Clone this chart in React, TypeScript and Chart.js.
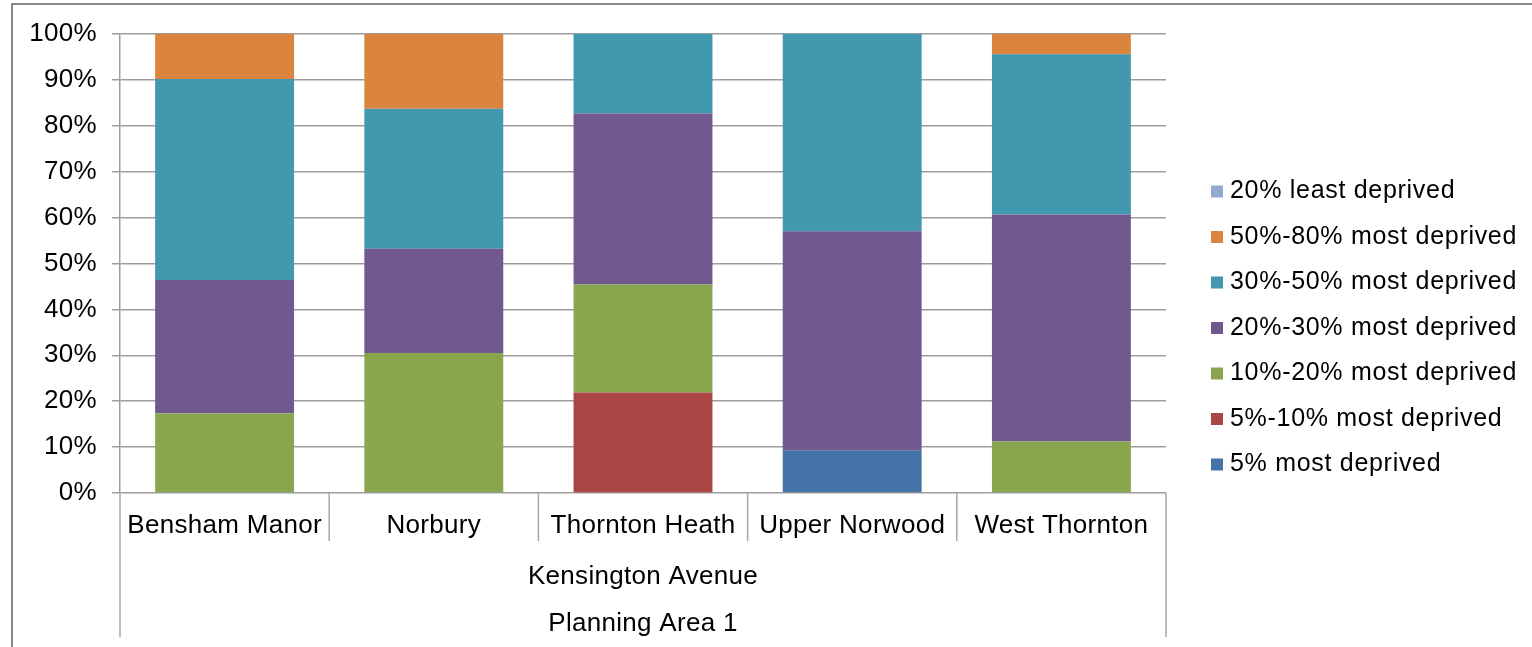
import React, { useEffect, useRef } from "react";
import { Chart, registerables } from "chart.js";

Chart.register(...registerables);

// ---------- data ----------
const categories = ["Bensham Manor", "Norbury", "Thornton Heath", "Upper Norwood", "West Thornton"];
const groupLabels = ["Kensington Avenue", "Planning Area 1"];
const yTickValues = [0, 10, 20, 30, 40, 50, 60, 70, 80, 90, 100];

// series listed bottom of stack first
const most5 = [0, 0, 0, 9.3, 0];
const most5to10 = [0, 0, 21.9, 0, 0];
const most10to20 = [17.4, 30.5, 23.5, 0, 11.2];
const most20to30 = [29.0, 22.7, 37.3, 47.7, 49.5];
const most30to50 = [43.8, 30.5, 17.3, 43.0, 34.9];
const most50to80 = [9.8, 16.3, 0, 0, 4.4];
const least20 = [0, 0, 0, 0, 0];

const seriesNames = [
  "5% most deprived",
  "5%-10% most deprived",
  "10%-20% most deprived",
  "20%-30% most deprived",
  "30%-50% most deprived",
  "50%-80% most deprived",
  "20% least deprived",
];
const seriesValues = [most5, most5to10, most10to20, most20to30, most30to50, most50to80, least20];
const seriesColors = ["#4572A7", "#AA4643", "#89A54E", "#71588F", "#4198AF", "#DB843D", "#93A9CF"];

const FONT = "'Liberation Sans', Arial, sans-serif";
const GRID = "#9d9d9d";

const decorPlugin = {
  id: "decor",
  beforeDraw(chart: any) {
    const ctx = chart.ctx;
    ctx.save();
    ctx.strokeStyle = "#878787";
    ctx.lineWidth = 2;
    ctx.beginPath();
    ctx.moveTo(12, chart.height);
    ctx.lineTo(12, 4);
    ctx.lineTo(chart.width + 2, 4);
    ctx.stroke();
    ctx.restore();
    (ctx as any).letterSpacing = "0.3px";
  },
  afterDraw(chart: any) {
    const ctx = chart.ctx;
    const xs = chart.scales.x;
    const area = chart.chartArea;
    const n = categories.length;
    const step = (area.right - area.left) / n;
    ctx.save();
    ctx.strokeStyle = "#a6a6a6";
    ctx.lineWidth = 1.5;
    ctx.beginPath();
    for (let i = 1; i < n; i++) {
      const x = (xs.getPixelForValue(i - 1) + xs.getPixelForValue(i)) / 2;
      ctx.moveTo(x, area.bottom);
      ctx.lineTo(x, area.bottom + 48);
    }
    ctx.moveTo(xs.getPixelForValue(0) - step / 2, area.bottom);
    ctx.lineTo(xs.getPixelForValue(0) - step / 2, 637);
    ctx.moveTo(xs.getPixelForValue(n - 1) + step / 2, area.bottom);
    ctx.lineTo(xs.getPixelForValue(n - 1) + step / 2, 637);
    ctx.stroke();

    // legend (top item = top of stack)
    const ds = chart.data.datasets;
    const boxX = 1211;
    const textX = 1230;
    const top = 191.5;
    const gap = 45.5;
    ctx.font = `25px ${FONT}`;
    (ctx as any).letterSpacing = "0.7px";
    ctx.textBaseline = "middle";
    ctx.textAlign = "left";
    for (let k = 0; k < ds.length; k++) {
      const d = ds[ds.length - 1 - k];
      const y = top + k * gap;
      ctx.fillStyle = d.backgroundColor;
      ctx.fillRect(boxX, y - 6, 12, 12);
      ctx.fillStyle = "#000";
      ctx.fillText(d.label, textX, y);
    }
    ctx.restore();
    (ctx as any).letterSpacing = "0px";
  },
};

export default function App() {
  const ref = useRef<HTMLCanvasElement | null>(null);

  useEffect(() => {
    if (!ref.current) return;
    const chart = new Chart(ref.current, {
      type: "bar",
      data: {
        labels: categories,
        datasets: seriesNames.map((name, i) => ({
          label: name,
          data: seriesValues[i],
          backgroundColor: seriesColors[i],
          borderWidth: 0,
          barPercentage: 0.664,
          categoryPercentage: 1,
        })),
      },
      options: {
        responsive: false,
        animation: false,
        layout: { padding: { top: 34, left: 0, right: 1532 - 1166, bottom: 0 } },
        plugins: {
          legend: { display: false },
          tooltip: { enabled: false },
          title: { display: false },
        },
        scales: {
          x: {
            stacked: true,
            grid: { display: false, drawTicks: false },
            border: { display: false },
            ticks: {
              font: { family: FONT, size: 26 },
              color: "#000",
              padding: 17,
              maxRotation: 0,
              autoSkip: false,
            },
            title: {
              display: true,
              text: groupLabels,
              font: { family: FONT, size: 26, lineHeight: 1.78 },
              color: "#000",
              padding: { top: 0, bottom: 0.5 },
            },
            afterFit: (s: any) => {
              s.height = 647 - 493;
            },
          },
          y: {
            stacked: true,
            min: 0,
            max: 100,
            grid: { color: GRID, lineWidth: 1.5, tickLength: 8, drawTicks: true },
            border: { display: true, color: GRID, width: 1.5 },
            afterBuildTicks: (s: any) => {
              s.ticks = yTickValues.map((v) => ({ value: v }));
            },
            ticks: {
              font: { family: FONT, size: 26 },
              color: "#000",
              padding: 15,
              callback: (v: any) => `${v}%`,
            },
            afterFit: (s: any) => {
              s.width = 120;
            },
          },
        },
      },
      plugins: [decorPlugin],
    });
    return () => chart.destroy();
  }, []);

  return (
    <div style={{ position: "fixed", left: 0, top: 0, width: 1532, height: 647, background: "#fff" }}>
      <canvas ref={ref} width={1532} height={647} style={{ display: "block" }} />
    </div>
  );
}
